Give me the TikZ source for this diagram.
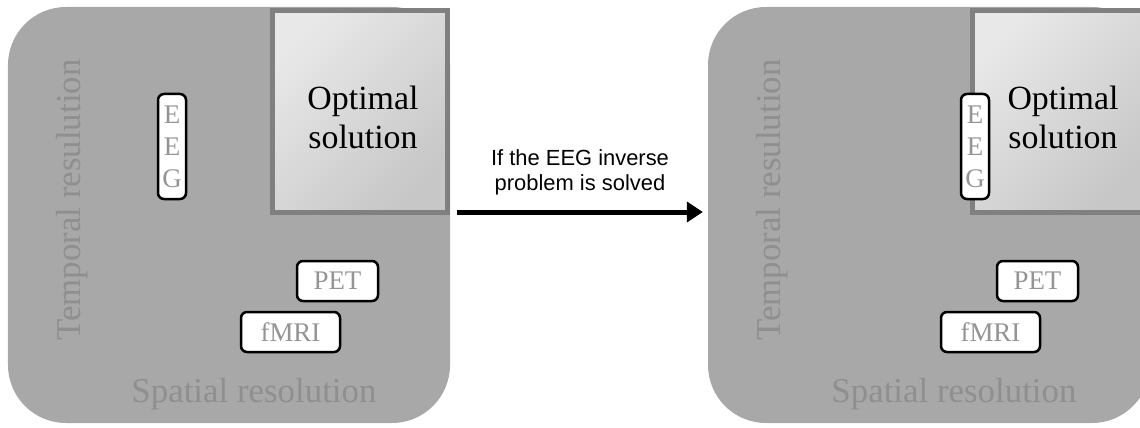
\documentclass[tikz,border=0pt]{standalone}
\usepackage{fontspec}
\setmainfont{Liberation Serif}
\newfontfamily\arialfont{Liberation Sans}
\usepackage{tikz}
\usetikzlibrary{positioning, arrows.meta}

\definecolor{panelgray}{gray}{0.66}
\definecolor{labelgray}{gray}{0.56}
\definecolor{rimgray}{gray}{0.5}

\begin{document}
\begin{tikzpicture}[
    x=1bp, y=1bp,
    panel/.style={rectangle, fill=panelgray, rounded corners=58bp, minimum width=442bp, minimum height=416bp, inner sep=0pt},
    optbox/.style={rectangle, draw=rimgray, line width=5bp, top color=black!9, bottom color=black!22, shading angle=45, minimum width=175bp, minimum height=202bp},
    opttext/.style={align=center, inner sep=0pt, font=\fontsize{34}{39}\selectfont},
    tech/.style={rectangle, draw, fill=white, line width=2.5bp, rounded corners=6bp, inner sep=0pt, align=center, text=black!42, font=\fontsize{27}{32}\selectfont},
    axislabel/.style={text=labelgray, inner sep=0pt, font=\fontsize{35}{40}\selectfont},
    note/.style={align=center, inner sep=0pt, font=\arialfont\fontsize{22}{26}\selectfont},
    arrow/.style={-{Triangle[length=16bp, width=20bp]}, line width=5bp}
]
    \clip (0,0) rectangle (1140,427);

    % before
    \node[panel] (panelL) at (229,212) {};
    \node[optbox] (optL) at (360,315.5) {};
    \node[opttext] (optLtext) at ([shift={(3bp,-6bp)}]optL.center) {Optimal\\solution};
    \node[tech, minimum width=28bp, minimum height=105bp] (eegL) at (172,280.5) {E\\E\\G};
    \node[tech, minimum width=81bp, minimum height=40bp] (petL) at (337.5,146) {PET};
    \node[tech, minimum width=99bp, minimum height=40bp] (fmriL) at (290.5,95) {fMRI};
    \node[axislabel, rotate=90] (tempL) at (72,227) {Temporal resulution};
    \node[axislabel] (spatL) at (254,33) {Spatial resolution};

    % after
    \node[panel] (panelR) at (929,212) {};
    \node[optbox] (optR) at (1060,315.5) {};
    \node[opttext] (optRtext) at ([shift={(3bp,-6bp)}]optR.center) {Optimal\\solution};
    \node[tech, minimum width=28bp, minimum height=105bp] (eegR) at (975,280.5) {E\\E\\G};
    \node[tech, minimum width=81bp, minimum height=40bp] (petR) at (1037.5,146) {PET};
    \node[tech, minimum width=99bp, minimum height=40bp] (fmriR) at (990.5,95) {fMRI};
    \node[axislabel, rotate=90] (tempR) at (772,227) {Temporal resulution};
    \node[axislabel] (spatR) at (954,33) {Spatial resolution};

    \draw[arrow] ([shift={(7bp,3bp)}]panelL.east) -- ([shift={(-5bp,3bp)}]panelR.west)
        node[midway, above=14bp, note] (cap) {If the EEG inverse\\problem is solved};
\end{tikzpicture}
\end{document}
